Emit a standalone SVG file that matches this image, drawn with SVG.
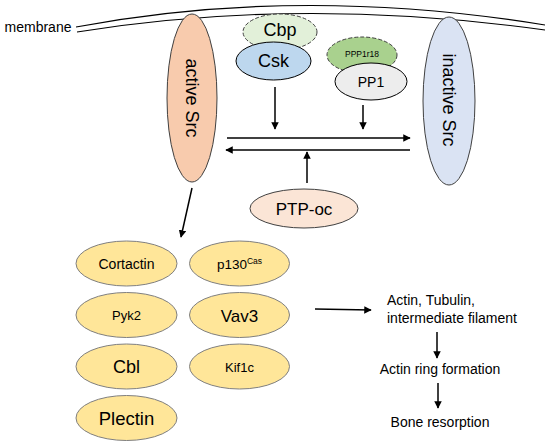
<svg xmlns="http://www.w3.org/2000/svg" width="550" height="445" viewBox="0 0 550 445">
<style>
text{font-family:"Liberation Sans",Arial,sans-serif;fill:#000;text-anchor:middle}
.n{stroke:#404040;stroke-width:1}
.d{stroke:#404040;stroke-width:1;stroke-dasharray:4 2}
.y{fill:#FFE699;stroke:#7F7F7F;stroke-width:1}
.c{stroke:#000;stroke-width:1.5;fill:none;marker-end:url(#ah)}
.m{stroke:#000;stroke-width:1.2;fill:none}
</style>
<defs>
<marker id="ah" viewBox="0 0 10 10" refX="9" refY="5" markerWidth="5" markerHeight="5" orient="auto" markerUnits="strokeWidth">
<path d="M0,0 L10,5 L0,10 z" fill="#000"/>
</marker>
</defs>
<rect width="550" height="445" fill="#fff"/>
<g id="membrane">
<path class="m" d="M76 27 Q300 -15 545 25"/>
<path class="m" d="M77 32 Q300 -4 545 30"/>
<text x="38" y="32" font-size="14">membrane</text>
</g>
<g id="active-src">
<ellipse cx="192" cy="98" rx="25" ry="84" fill="#F8CBAD" class="n"/>
<text transform="translate(192 98) rotate(90)" y="6" font-size="18">active Src</text>
</g>
<g id="inactive-src">
<ellipse cx="449" cy="101" rx="26" ry="84" fill="#DAE3F3" class="n"/>
<text transform="translate(449 100) rotate(90)" y="6" font-size="18">inactive Src</text>
</g>
<g id="cbp">
<ellipse cx="280" cy="32" rx="37" ry="18" fill="#E2F0D9" class="d"/>
<text x="280" y="36" font-size="18">Cbp</text>
</g>
<g id="csk">
<ellipse cx="273.5" cy="61" rx="37.5" ry="19" fill="#BDD7EE" stroke="#000" stroke-width="1"/>
<text x="273.5" y="67" font-size="18">Csk</text>
</g>
<g id="ppp1r18">
<ellipse cx="362" cy="55" rx="35" ry="18" fill="#A9D18E" class="d"/>
<text x="362" y="57" font-size="8.5">PPP1r18</text>
</g>
<g id="pp1">
<ellipse cx="371" cy="81.5" rx="36" ry="18.5" fill="#EDEDED" stroke="#000" stroke-width="1"/>
<text x="371" y="86.5" font-size="14">PP1</text>
</g>
<g id="ptp-oc">
<ellipse cx="304" cy="208.5" rx="54" ry="19.5" fill="#FBE5D6" class="n"/>
<text x="304" y="214.5" font-size="17">PTP-oc</text>
</g>
<g id="cortactin"><ellipse cx="126.5" cy="263.5" rx="50.5" ry="22.5" class="y"/><text x="126.5" y="268.5" font-size="14">Cortactin</text></g>
<g id="p130cas"><ellipse cx="239.5" cy="263.5" rx="50" ry="22.5" class="y"/><text x="239.5" y="268.5" font-size="13.5">p130<tspan font-size="8.5" dy="-5">Cas</tspan></text></g>
<g id="pyk2"><ellipse cx="126.5" cy="315" rx="50.5" ry="22.5" class="y"/><text x="126.5" y="320" font-size="13">Pyk2</text></g>
<g id="vav3"><ellipse cx="239.5" cy="315" rx="50" ry="22.5" class="y"/><text x="239.5" y="321.5" font-size="17">Vav3</text></g>
<g id="cbl"><ellipse cx="126.5" cy="366.5" rx="50.5" ry="22.5" class="y"/><text x="126.5" y="373" font-size="18">Cbl</text></g>
<g id="kif1c"><ellipse cx="239.5" cy="366.5" rx="50" ry="22.5" class="y"/><text x="239.5" y="371.5" font-size="13">Kif1c</text></g>
<g id="plectin"><ellipse cx="126.5" cy="418" rx="50.5" ry="22.5" class="y"/><text x="126.5" y="424.5" font-size="18.5">Plectin</text></g>
<g id="outcomes">
<text x="387" y="305" font-size="14" text-anchor="start" style="text-anchor:start">Actin, Tubulin,</text>
<text x="387" y="323" font-size="14" style="text-anchor:start">intermediate filament</text>
<text x="440" y="374" font-size="14">Actin ring formation</text>
<text x="440" y="426.5" font-size="14">Bone resorption</text>
</g>
<g id="connectors">
<line class="c" x1="275" y1="87" x2="275" y2="129"/>
<line class="c" x1="363" y1="105" x2="363" y2="129"/>
<line class="c" x1="227" y1="138" x2="410" y2="138"/>
<line class="c" x1="410" y1="150" x2="226" y2="150"/>
<line class="c" x1="307" y1="183" x2="307" y2="152"/>
<line class="c" x1="192" y1="188" x2="181" y2="237"/>
<line class="c" x1="315" y1="309" x2="371" y2="310"/>
<line class="c" x1="437" y1="332" x2="437" y2="358"/>
<line class="c" x1="438" y1="383" x2="438" y2="408"/>
</g>
</svg>
